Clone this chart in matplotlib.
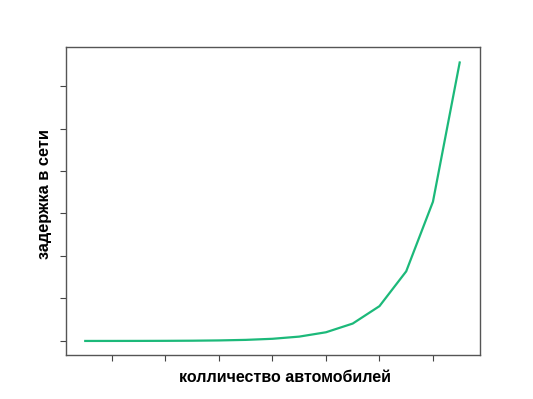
import matplotlib
matplotlib.use('Agg')
import matplotlib.pyplot as plt

# number of cars vs network delay
cars = [1, 2, 3, 4, 5, 6, 7, 8, 9, 10, 11, 12, 13, 14, 15]
delay = [2, 4, 8, 16, 32, 64, 128, 256, 512, 1024, 2048, 4096, 8192, 16384, 32768]
x_ticks = [2, 4, 6, 8, 10, 12, 14]
y_ticks = [0, 5000, 10000, 15000, 20000, 25000, 30000]

plt.rcParams['font.family'] = ['Liberation Sans', 'DejaVu Sans']

fig = plt.figure(figsize=(5.33, 3.99), dpi=100)
ax = fig.add_axes([0.1238, 0.1103, 0.7768, 0.7719])

ax.plot(cars, delay, color='#1cb97a', linewidth=1.6)

ax.set_xlim(0.28, 15.76)
ax.set_ylim(-1650, 34590)
ax.set_xticks(x_ticks)
ax.set_yticks(y_ticks)
ax.set_xticklabels([])
ax.set_yticklabels([])
ax.tick_params(direction='out', length=4, width=0.8, color='#444444')

for s in ax.spines.values():
    s.set_color('#555555')
    s.set_linewidth(1.0)

# labels sit a bit off-centre in the original
fig.text(285 / 533, 1 - 378 / 399, 'колличество автомобилей', fontsize=11.5,
         fontweight='bold', ha='center', va='center')
fig.text(44 / 533, 1 - 194 / 399, 'задержка в сети', fontsize=11.8,
         fontweight='bold', ha='center', va='center', rotation=90)

plt.savefig('out.png', dpi=100)
